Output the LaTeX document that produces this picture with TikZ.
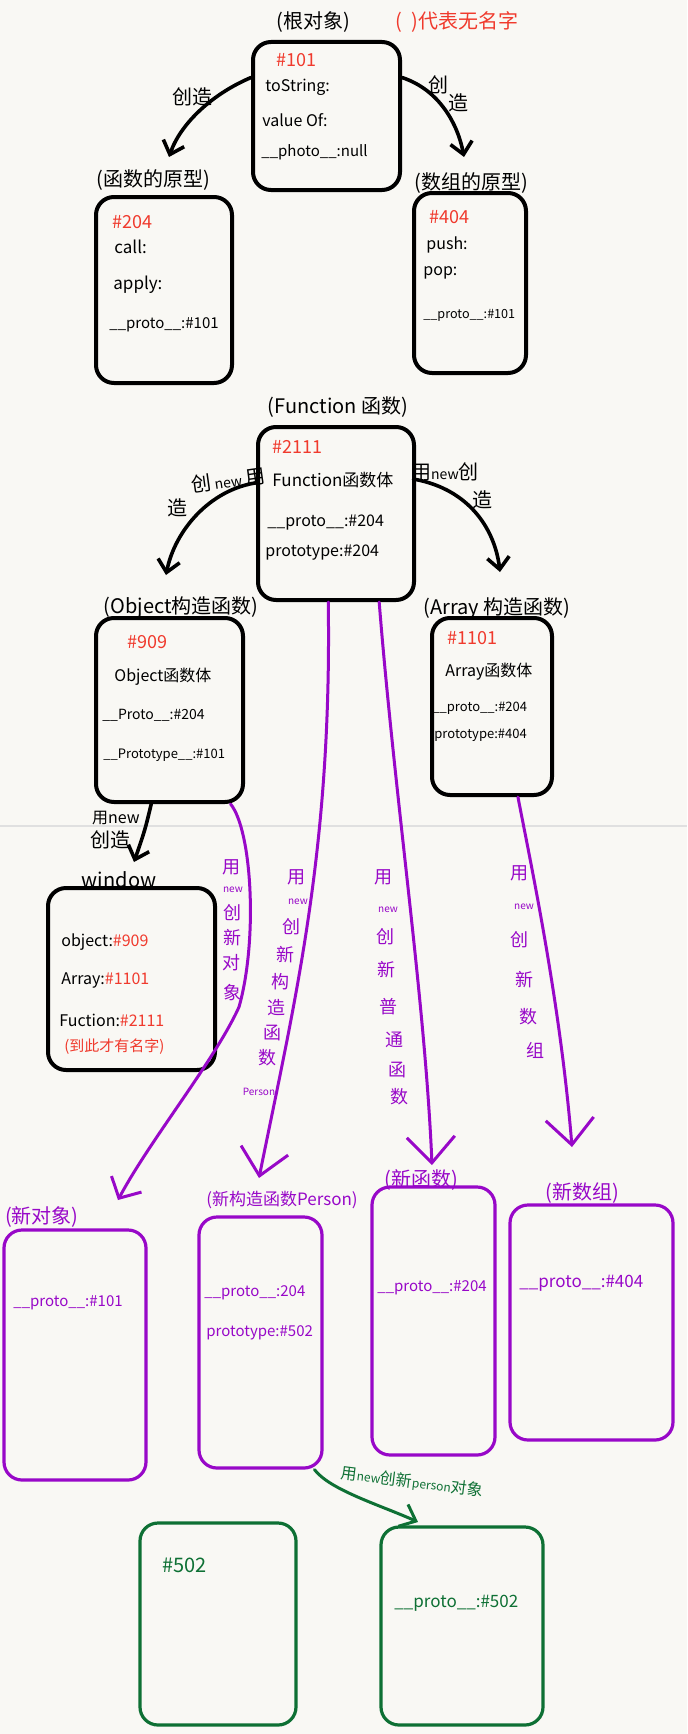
\documentclass[tikz,border=0pt]{standalone}
\usepackage{fontspec}
\setmainfont{Noto Sans CJK SC}
\usetikzlibrary{arrows.meta}
\definecolor{bg}{RGB}{249,248,244}
\definecolor{hred}{RGB}{240,58,45}
\definecolor{hpur}{RGB}{152,8,200}
\definecolor{hgrn}{RGB}{14,112,52}
\begin{document}
\begin{tikzpicture}[x=0.5pt,y=-0.5pt,
 bbox/.style={draw=black, line width=2pt, rounded corners=9pt, inner sep=0pt},
 pbox/.style={draw=hpur, line width=1.6pt, rounded corners=9pt, inner sep=0pt},
 gbox/.style={draw=hgrn, line width=1.6pt, rounded corners=9pt, inner sep=0pt},
 hdr/.style={font=\fontsize{10}{12}\selectfont, inner sep=0pt},
 txt/.style={anchor=west, font=\fontsize{7.5}{9}\selectfont, inner sep=0pt},
 rtxt/.style={txt, text=hred},
 ptxt/.style={txt, text=hpur},
 plab/.style={font=\fontsize{9}{9}\selectfont, text=hpur, inner sep=0pt},
 pnew/.style={font=\fontsize{5}{5}\selectfont, text=hpur, inner sep=0pt},
 barrow/.style={draw=black, line width=1.8pt, line cap=round, -{Straight Barb[length=6pt,width=11pt]}},
 parrow/.style={draw=hpur, line width=1.5pt, line cap=round, -{Straight Barb[length=13pt,width=24pt]}},
 garrow/.style={draw=hgrn, line width=1.5pt, line cap=round, -{Straight Barb[length=7pt,width=12pt]}},
]
\useasboundingbox (0,0) rectangle (687,1734);
\fill[bg] (0,0) rectangle (687,1734);
\draw[black!12, line width=0.6pt] (0,826) -- (687,826);

% ---------- boxes ----------
\node[bbox, minimum width=73.5pt, minimum height=74pt] (root) at (326.5,116) {};
\node[bbox, minimum width=68pt, minimum height=93pt] (pfn) at (164,290) {};
\node[bbox, minimum width=56pt, minimum height=90pt] (parr) at (470,283) {};
\node[bbox, minimum width=78pt, minimum height=86.5pt] (fnc) at (336,513.5) {};
\node[bbox, minimum width=73.5pt, minimum height=92pt] (obj) at (169.5,710) {};
\node[bbox, minimum width=60pt, minimum height=88.5pt] (arr) at (492,706.5) {};
\node[bbox, minimum width=83.5pt, minimum height=91pt] (win) at (131.5,979) {};
\node[pbox, minimum width=71pt, minimum height=125pt] (nobj) at (75,1355) {};
\node[pbox, minimum width=61.5pt, minimum height=125.5pt] (per) at (260.5,1342.5) {};
\node[pbox, minimum width=61.5pt, minimum height=134pt] (nfn) at (433.5,1321) {};
\node[pbox, minimum width=81.5pt, minimum height=117.5pt] (narr) at (591.5,1322.5) {};
\node[gbox, minimum width=78pt, minimum height=101pt] (g1) at (218,1624) {};
\node[gbox, minimum width=81pt, minimum height=99pt] (g2) at (462,1626) {};

% ---------- headers ----------
\node[hdr] (hroot) at (313,22) {(根对象)};
\node[hdr, text=hred] (hnote) at (457,22) {(\ \ )代表无名字};
\node[hdr] (hpfn) at (153,180) {(函数的原型)};
\node[hdr] (hparr) at (471,183) {(数组的原型)};
\node[hdr] (hfnc) at (338,407) {(Function 函数)};
\node[hdr] (hobj) at (181,608) {(Object构造函数)};
\node[hdr] (harr) at (497,608) {(Array 构造函数)};
\node[hdr] (hwin) at (119,880) {window};
\node[hdr, text=hpur] (hnobj) at (42,1217) {(新对象)};
\node[hdr, text=hpur, font=\fontsize{8.5}{10}\selectfont] (hper) at (282,1200) {(新构造函数Person)};
\node[hdr, text=hpur] (hnfn) at (421,1180) {(新函数)};
\node[hdr, text=hpur] (hnarr) at (582,1193) {(新数组)};

% ---------- box texts ----------
\node[rtxt, font=\fontsize{9}{10}\selectfont] (r1) at (276,60) {\#101};
\node[txt, font=\fontsize{8}{10}\selectfont] (r2) at (265,87) {toString:};
\node[txt, font=\fontsize{8}{10}\selectfont] (r3) at (262,120) {value Of:};
\node[txt] (r4) at (261,152) {\_\_photo\_\_:null};

\node[rtxt, font=\fontsize{9}{10}\selectfont] (f1) at (112,222) {\#204};
\node[txt, font=\fontsize{8.5}{10}\selectfont] (f2) at (114,247) {call:};
\node[txt, font=\fontsize{8.5}{10}\selectfont] (f3) at (113,285) {apply:};
\node[txt] (f4) at (109,325) {\_\_proto\_\_:\#101};

\node[rtxt, font=\fontsize{9}{10}\selectfont] (a1) at (429,217) {\#404};
\node[txt, font=\fontsize{8}{10}\selectfont] (a2) at (426,245) {push:};
\node[txt, font=\fontsize{8}{10}\selectfont] (a3) at (423,273) {pop:};
\node[txt, font=\fontsize{6.3}{9}\selectfont] (a4) at (423,315) {\_\_proto\_\_:\#101};

\node[rtxt, font=\fontsize{9}{10}\selectfont] (c1) at (272,447) {\#2111};
\node[txt, font=\fontsize{8.5}{10}\selectfont] (c2) at (272,480) {Function函数体};
\node[txt, font=\fontsize{8}{10}\selectfont] (c3) at (267,523) {\_\_proto\_\_:\#204};
\node[txt, font=\fontsize{8}{10}\selectfont] (c4) at (265,553) {prototype:\#204};

\node[rtxt, font=\fontsize{9}{10}\selectfont] (o1) at (127,642) {\#909};
\node[txt, font=\fontsize{8}{10}\selectfont] (o2) at (114,677) {Object函数体};
\node[txt, font=\fontsize{7}{9}\selectfont] (o3) at (102,715) {\_\_Proto\_\_:\#204};
\node[txt, font=\fontsize{6.5}{9}\selectfont] (o4) at (103,755) {\_\_Prototype\_\_:\#101};

\node[rtxt, font=\fontsize{9}{10}\selectfont] (y1) at (447,638) {\#1101};
\node[txt, font=\fontsize{8}{10}\selectfont] (y2) at (445,672) {Array函数体};
\node[txt, font=\fontsize{6.5}{9}\selectfont] (y3) at (432,708) {\_\_proto\_\_:\#204};
\node[txt, font=\fontsize{6.5}{9}\selectfont] (y4) at (434,735) {prototype:\#404};

\node[txt, font=\fontsize{8}{10}\selectfont] (w1) at (61,942) {object:\textcolor{hred}{\#909}};
\node[txt, font=\fontsize{8}{10}\selectfont] (w2) at (61,980) {Array:\textcolor{hred}{\#1101}};
\node[txt, font=\fontsize{8}{10}\selectfont] (w3) at (59,1020) {Fuction:\textcolor{hred}{\#2111}};
\node[rtxt, font=\fontsize{7.5}{9}\selectfont] (w4) at (64,1047) {(到此才有名字)};

\node[ptxt] (n1) at (13,1303) {\_\_proto\_\_:\#101};
\node[ptxt] (p1) at (204,1293) {\_\_proto\_\_:204};
\node[ptxt] (p2) at (206,1333) {prototype:\#502};
\node[ptxt] (q1) at (377,1288) {\_\_proto\_\_:\#204};
\node[ptxt, font=\fontsize{8.5}{10}\selectfont] (s1) at (519,1283) {\_\_proto\_\_:\#404};
\node[txt, text=hgrn, font=\fontsize{10}{12}\selectfont] (g1t) at (162,1565) {\#502};
\node[txt, text=hgrn, font=\fontsize{8.5}{10}\selectfont] (g2t) at (394,1603) {\_\_proto\_\_:\#502};

% ---------- arrow tips ----------
\coordinate (tpfn) at (169,157);
\coordinate (tparr) at (464,157);
\coordinate (tobj) at (166,575);
\coordinate (tarr) at (500,572);
\coordinate (twin) at (134,862);
\coordinate (tnobj) at (118,1200);
\coordinate (tper) at (259,1178);
\coordinate (tnfn) at (432,1165);
\coordinate (tnarr) at (572,1147);
\coordinate (tg2) at (418,1522);

% ---------- black arrows ----------
\draw[barrow] (root.153) .. controls (210,95) and (180,125) .. (tpfn);
\draw[barrow] (root.27) .. controls (440,90) and (458,125) .. (tparr);
\draw[barrow] (fnc.159) .. controls (210,490) and (175,530) .. (tobj);
\draw[barrow] (fnc.23) .. controls (470,490) and (495,530) .. (tarr);
\draw[barrow] (obj.259) .. controls (145,830) .. (twin);

\node[hdr] (l1) at (192,97) {创造};
\node[hdr] (l2a) at (438,85) {创};
\node[hdr] (l2b) at (458,103) {造};
\node[hdr, rotate=8] (l3a) at (228,480) {创\,{\fontsize{7}{8}\selectfont new}\,用};
\node[hdr] (l3b) at (177,508) {造};
\node[hdr] (l4a) at (445,472) {用{\fontsize{7}{8}\selectfont new}创};
\node[hdr] (l4b) at (482,500) {造};
\node[hdr, font=\fontsize{8}{9}\selectfont] (l5a) at (116,818) {用new};
\node[hdr] (l5b) at (110,840) {创造};

% ---------- purple arrows ----------
\draw[parrow, -{Straight Barb[length=8pt,width=17pt]}] (obj.303) .. controls (252,830) and (258,940) .. (239,1007) .. controls (215,1060) and (150,1140) .. (tnobj);
\draw[parrow] (fnc.265) .. controls (332,850) and (295,1000) .. (tper);
\draw[parrow] (fnc.296) .. controls (395,800) and (425,1000) .. (tnfn);
\draw[parrow] (arr.286) .. controls (530,860) and (560,1000) .. (tnarr);

\foreach \t/\x/\y [count=\i] in {用/231/867, 创/232/913, 新/232/938, 对/231/963, 象/232/993}
  \node[plab] (pa\i) at (\x,\y) {\t};
\node[pnew] (pan) at (233,890) {new};
\foreach \t/\x/\y [count=\i] in {用/296/877, 创/291/927, 新/285/955, 构/280/982, 造/276/1008, 函/272/1033, 数/267/1058}
  \node[plab] (pb\i) at (\x,\y) {\t};
\node[pnew] (pbn) at (298,902) {new};
\node[pnew] (pbp) at (259,1092) {Person};
\foreach \t/\x/\y [count=\i] in {用/383/877, 创/385/937, 新/386/970, 普/388/1007, 通/394/1040, 函/397/1070, 数/399/1097}
  \node[plab] (pc\i) at (\x,\y) {\t};
\node[pnew] (pcn) at (388,910) {new};
\foreach \t/\x/\y [count=\i] in {用/519/873, 创/519/940, 新/524/980, 数/528/1017, 组/535/1050}
  \node[plab] (pd\i) at (\x,\y) {\t};
\node[pnew] (pdn) at (524,907) {new};

% ---------- green arrow ----------
\draw[garrow] (per.293) .. controls (330,1490) and (380,1505) .. (tg2);
\node[hdr, text=hgrn, rotate=-7, font=\fontsize{8}{9}\selectfont] (gl) at (412,1482) {用{\fontsize{6}{7}\selectfont new}创新{\fontsize{6}{7}\selectfont person}对象};
\end{tikzpicture}
\end{document}
